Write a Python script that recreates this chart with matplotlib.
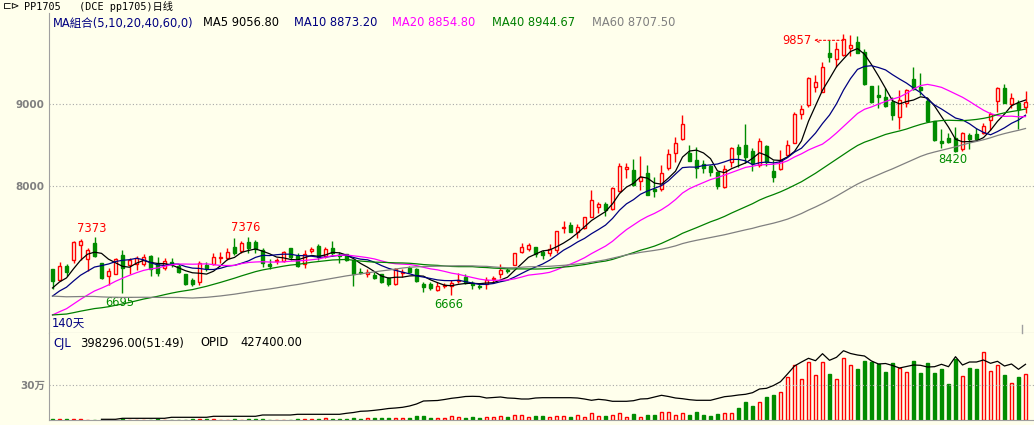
import numpy as np
import pandas as pd
import matplotlib
matplotlib.use('Agg')
import matplotlib.pyplot as plt
from matplotlib.lines import Line2D

plt.rcParams['font.family'] = ['DejaVu Sans', 'Noto Sans CJK SC']

# ---- daily bars PP1705, oldest first (140 days on screen) ----
opens = [6980, 6853, 7025, 7091, 7274, 7103, 7299, 7054, 6895, 6927,
         7155, 7033, 7042, 7049, 7143, 7049, 6993, 7073, 7021, 6919,
         6849, 6829, 7033, 7042, 7122, 7122, 7250, 7208, 7315, 7311,
         7217, 7045, 7086, 7082, 7237, 7147, 7042, 7204, 7265, 7147,
         7237, 7159, 7164, 7094, 6944, 6923, 6911, 6919, 6870, 6804,
         6939, 7000, 6984, 6804, 6804, 6721, 6776, 6780, 6833, 6890,
         6816, 6780, 6797, 6858, 6919, 6972, 7037, 7188, 7233, 7250,
         7196, 7184, 7211, 7490, 7520, 7431, 7480, 7624, 7739, 7780,
         7715, 7941, 8206, 8196, 8055, 8156, 7957, 7960, 8226, 8400,
         8572, 8404, 8318, 8266, 8245, 8168, 7982, 8297, 8477, 8502,
         8428, 8251, 8490, 8184, 8204, 8383, 8530, 8878, 8995, 9208,
         9154, 9628, 9551, 9603, 9685, 9766, 9640, 9228, 9114, 9089,
         9032, 8848, 9012, 9310, 9215, 9044, 8799, 8553, 8588, 8591,
         8449, 8624, 8633, 8645, 8804, 9040, 9196, 9004, 9020, 8963]
highs = [6984, 7066, 7042, 7331, 7347, 7245, 7373, 7058, 6993, 7122,
         7217, 7122, 7143, 7164, 7149, 7135, 7122, 7122, 7042, 6923,
         6878, 7082, 7073, 7184, 7196, 7245, 7360, 7331, 7376, 7339,
         7237, 7103, 7122, 7208, 7241, 7176, 7217, 7257, 7290, 7257,
         7331, 7196, 7168, 7094, 7000, 6980, 6944, 6923, 6890, 7000,
         6980, 7021, 7000, 6829, 6829, 6821, 6816, 6849, 6931, 6923,
         6841, 6809, 6890, 6898, 7042, 6993, 7180, 7299, 7299, 7257,
         7217, 7290, 7449, 7572, 7553, 7529, 7620, 7951, 7808, 7808,
         7982, 8282, 8282, 8327, 8367, 8257, 8114, 8257, 8449, 8603,
         8869, 8502, 8474, 8318, 8251, 8175, 8257, 8481, 8510, 8755,
         8461, 8588, 8502, 8318, 8441, 8563, 8909, 8991, 9338, 9359,
         9521, 9787, 9766, 9857, 9848, 9836, 9673, 9230, 9236, 9196,
         9086, 9175, 9187, 9460, 9379, 9073, 8801, 8694, 8645, 8726,
         8665, 8652, 8706, 8767, 8909, 9215, 9248, 9135, 9053, 9163]
lows = [6736, 6837, 6902, 7054, 7094, 6960, 7135, 6862, 6788, 6923,
        6695, 6919, 6968, 7025, 6898, 6898, 6972, 7005, 6931, 6788,
        6776, 6788, 6960, 7033, 7054, 7094, 7155, 7184, 7184, 7184,
        7012, 6980, 7042, 7066, 7094, 7012, 7000, 7184, 7094, 7115,
        7143, 7061, 7082, 6780, 6919, 6883, 6858, 6809, 6776, 6788,
        6890, 6931, 6829, 6699, 6727, 6715, 6748, 6666, 6809, 6800,
        6736, 6736, 6736, 6809, 6870, 6931, 7033, 7180, 7208, 7135,
        7103, 7147, 7176, 7425, 7437, 7360, 7474, 7624, 7673, 7637,
        7710, 7930, 8094, 7996, 7951, 7884, 7869, 7942, 8196, 8297,
        8563, 8306, 8094, 8163, 8122, 7963, 7972, 8229, 8229, 8278,
        8184, 8236, 8245, 8053, 8196, 8379, 8526, 8816, 8971, 9154,
        9150, 9512, 9460, 9591, 9591, 9628, 9242, 9012, 8955, 8967,
        8808, 8701, 8967, 9175, 9114, 8795, 8555, 8465, 8526, 8420,
        8428, 8449, 8563, 8637, 8685, 8909, 9016, 8951, 8694, 8890]
closes = [6837, 7021, 6947, 7315, 7327, 7213, 7147, 6874, 6960, 7106,
          6993, 7094, 7122, 7127, 6984, 6931, 7082, 7045, 6951, 6804,
          6804, 7054, 6993, 7127, 7135, 7188, 7184, 7299, 7245, 7229,
          7054, 7025, 7098, 7192, 7135, 7025, 7164, 7233, 7135, 7225,
          7176, 7140, 7094, 6919, 6931, 6944, 6870, 6821, 6797, 6980,
          6951, 6944, 6841, 6764, 6755, 6778, 6788, 6809, 6849, 6809,
          6788, 6764, 6849, 6870, 6972, 6960, 7176, 7250, 7274, 7168,
          7155, 7233, 7446, 7502, 7441, 7495, 7617, 7829, 7780, 7710,
          7972, 8241, 8229, 8012, 8107, 7890, 7939, 8163, 8389, 8523,
          8756, 8310, 8217, 8217, 8175, 8002, 8204, 8461, 8392, 8351,
          8282, 8547, 8297, 8114, 8322, 8502, 8881, 8942, 9318, 9269,
          9453, 9585, 9673, 9796, 9726, 9632, 9245, 9032, 9093, 8979,
          8869, 9053, 9175, 9187, 9175, 8799, 8563, 8532, 8535, 8432,
          8645, 8575, 8572, 8738, 8878, 9196, 9020, 9081, 8939, 9025]

# closes of the 59 sessions before the screen, only needed for the MAs
prior_closes = [7250, 7230, 7200, 7180, 7210, 7190, 7160, 7140, 7150, 7120,
                7100, 7080, 7090, 7060, 7040, 7050, 7020, 7000, 7010, 6990,
                6800, 6720, 6650, 6600, 6560, 6520, 6480, 6450, 6400, 6360,
                6330, 6310, 6290, 6300, 6280, 6270, 6290, 6280, 6260, 6270,
                6230, 6210, 6180, 6170, 6160, 6150, 6170, 6190, 6210, 6230,
                6400, 6480, 6560, 6620, 6705, 6650, 6700, 6760, 6808]

# CJL (volume) and OPID (open interest)
volume = [6000, 6000, 6000, 6000, 6000, 0, 0, 4300, 4300, 4300,
          6000, 2600, 2600, 2600, 2600, 6000, 2600, 2600, 2600, 2600,
          6000, 6000, 6000, 6000, 2600, 2600, 6000, 2600, 6000, 6000,
          6000, 2600, 2600, 2600, 2600, 8600, 8600, 8600, 8600, 19900,
          8600, 8600, 8600, 14700, 11200, 14700, 19900, 19900, 19900, 17300,
          17300, 17300, 34600, 34600, 17300, 17300, 17300, 34600, 23300, 19900,
          25900, 17300, 23300, 23300, 34600, 23300, 40600, 40600, 23300, 34600,
          34600, 23300, 32000, 32000, 25900, 40600, 23300, 57900, 32000, 34600,
          40600, 57900, 23300, 51900, 23300, 43200, 43200, 69200, 69200, 40600,
          57900, 43200, 69200, 43200, 34600, 51900, 60500, 60500, 103800, 155600,
          121000, 155600, 198900, 216200, 242100, 369200, 475500, 354500, 501500, 389100,
          501500, 400300, 351900, 533500, 475500, 440900, 510100, 501500, 481600, 415000,
          492800, 449600, 415000, 510100, 406400, 492800, 406400, 440900, 311300, 524800,
          377800, 449600, 440900, 587900, 423700, 475500, 389100, 319900, 371800, 398296]
opid = [np.nan] * 7 + [
    5400, 5400, 5400,
    13000, 13000, 13000, 13000, 13000, 13000, 13000, 20700, 20700, 20700,
    20700, 20700, 20700, 28400, 28400, 28400, 28400, 28400, 28400, 28400,
    38400, 38400, 38400, 38400, 38400, 43700, 43700, 43700, 43700, 43700,
    43700, 43700, 51400, 57500, 66800, 69100, 74400, 80600, 88200, 92100,
    97400, 107400, 122800, 145800, 148100, 149600, 157300, 166500, 172600, 180300,
    181800, 180300, 168800, 172600, 176500, 168800, 166500, 161100, 161100, 168800,
    171100, 171100, 171100, 171100, 171100, 168800, 161100, 151200, 158800, 153500,
    143500, 143500, 143500, 148100, 161100, 163400, 176500, 189500, 180300, 168800,
    163400, 155800, 151200, 151200, 151200, 165000, 178800, 184200, 191800, 197200,
    209500, 237900, 243200, 264700, 293900, 353000, 414300, 445000, 473400, 455000,
    508700, 458100, 481100, 531700, 510300, 498700, 491100, 452700, 429700, 433500,
    418200, 399000, 410500, 422000, 419700, 406700, 409000, 427400, 409000, 485700,
    422000, 445000, 445000, 460400, 435100, 450400, 414300, 429700, 389000, 427400]

ma_periods = [5, 10, 20, 40, 60]
ma_colors = ['black', '#000080', '#ff00ff', '#008000', '#808080']

BG = '#ffffec'
RED = '#ff0000'
GRN = '#008c00'
W, H = 1034, 425

n = len(closes)
x = np.arange(n)
o = np.array(opens, float)
h = np.array(highs, float)
l = np.array(lows, float)
c = np.array(closes, float)
up = c >= o

all_close = pd.Series(prior_closes + closes, dtype=float)
mas = [all_close.rolling(p).mean().values[-n:] for p in ma_periods]

fig = plt.figure(figsize=(W / 100, H / 100), dpi=100, facecolor=BG)
ax = fig.add_axes([49 / W, 1 - 333 / H, (W - 49) / W, 320 / H], facecolor=BG)
axv = fig.add_axes([49 / W, 1 - 420 / H, (W - 49) / W, 87 / H], facecolor=BG)

# ---- price panel ----
ax.vlines(x[up], l[up], h[up], color=RED, lw=1, zorder=2)
ax.vlines(x[~up], l[~up], h[~up], color=GRN, lw=1, zorder=2)
body_lo = np.minimum(o, c)
body_h = np.maximum(np.abs(c - o), 8)
ax.bar(x[up], body_h[up], bottom=body_lo[up], width=0.56, color=BG,
       edgecolor=RED, linewidth=1, zorder=3)
ax.bar(x[~up], body_h[~up], bottom=body_lo[~up], width=0.56, color=GRN,
       edgecolor=GRN, linewidth=1, zorder=3)

for ma, col in zip(mas, ma_colors):
    ax.plot(x, ma, color=col, lw=0.9, zorder=4)

ax.set_xlim(-0.5, (W - 52.5) / 7)
ax.set_ylim(6200, 10118)
ax.set_yticks([8000, 9000])
ax.set_yticklabels(['8000', '9000'])
ax.set_xticks([])
ax.tick_params(axis='y', length=0, pad=3, labelsize=7.5, labelcolor='#808080')
for lab in ax.get_yticklabels():
    lab.set_fontweight('bold')
ax.grid(axis='y', linestyle=(0, (1, 2)), color='#a8a8a8', lw=0.8)
for s in ['top', 'right']:
    ax.spines[s].set_visible(False)
for s in ['left', 'bottom']:
    ax.spines[s].set_color('#a0a0a0')

# high / low marks
lbl = dict(fontsize=8.3, ha='center', va='center', textcoords='offset pixels')
ax.annotate('7373', xy=(6, 7373), xytext=(-3, 9), color=RED, **lbl)
ax.annotate('7376', xy=(28, 7376), xytext=(-3, 9), color=RED, **lbl)
ax.annotate('6695', xy=(10, 6695), xytext=(-3, -10), color=GRN, **lbl)
ax.annotate('6666', xy=(57, 6666), xytext=(-3, -10), color=GRN, **lbl)
ax.annotate('8420', xy=(129, 8420), xytext=(-3, -8), color=GRN, **lbl)
ax.annotate('9857', xy=(113, 9857), xytext=(-32, -6), color=RED,
            fontsize=8.3, ha='right', va='center', textcoords='offset pixels')
ax.annotate('', xy=(108.8, 9857 - 6 * 12.24), xytext=(113, 9857 - 6 * 12.24),
            arrowprops=dict(arrowstyle='->', color=RED, lw=0.8,
                            linestyle=(0, (2, 2)), mutation_scale=7,
                            shrinkA=0, shrinkB=0))
ax.text(0.003, 0.03, '140天', transform=ax.transAxes, color='#000080',
        fontsize=8.3, ha='left', va='center')

# ---- volume panel ----
v = np.array(volume, float)
axv.bar(x[up], v[up], width=0.56, color=BG, edgecolor=RED, linewidth=1)
axv.bar(x[~up], v[~up], width=0.56, color=GRN, edgecolor=GRN, linewidth=1)
axv.set_xlim(ax.get_xlim())
axv.set_ylim(0, 87 * 8646)
axv.set_xticks([])
axv.set_yticks([300000])
axv.set_yticklabels(['30万'])
axv.tick_params(axis='y', length=0, pad=3, labelsize=7.5, labelcolor='#808080')
for lab in axv.get_yticklabels():
    lab.set_fontweight('bold')
axv.grid(axis='y', linestyle=(0, (1, 2)), color='#a8a8a8', lw=0.8)
for s in ['top', 'right']:
    axv.spines[s].set_visible(False)
for s in ['left', 'bottom']:
    axv.spines[s].set_color('#a0a0a0')

axo = axv.twinx()
axo.plot(x, opid, color='black', lw=0.9)
axo.set_ylim(0, 87 * 7673)
axo.set_xlim(ax.get_xlim())
axo.axis('off')

# ---- header texts ----
def ftext(px, py, s, col='black', size=8.3, **kw):
    fig.text(px / W, 1 - py / H, s, color=col, fontsize=size,
             ha='left', va='center', **kw)

ftext(3, 6, '⊏⊳', size=7.5)
ftext(24, 6, 'PP1705   (DCE pp1705)日线', size=7.3,
      family=['DejaVu Sans Mono', 'Noto Sans CJK SC'])
ftext(53, 23, 'MA組合(5,10,20,40,60,0)', '#000080')
ftext(203, 23, 'MA5 9056.80')
ftext(294, 23, 'MA10 8873.20', '#000080')
ftext(392, 23, 'MA20 8854.80', '#ff00ff')
ftext(492, 23, 'MA40 8944.67', '#008000')
ftext(592, 23, 'MA60 8707.50', '#808080')
ftext(53, 343, 'CJL', '#000080')
ftext(80, 343, '398296.00(51:49)')
ftext(200, 343, 'OPID')
ftext(240, 343, '427400.00')

fig.add_artist(Line2D([1022 / W, 1022 / W], [1 - 333 / H, 1 - 325 / H],
                      color='#a0a0a0', lw=1))

fig.savefig('out.png', dpi=100, facecolor=BG)
